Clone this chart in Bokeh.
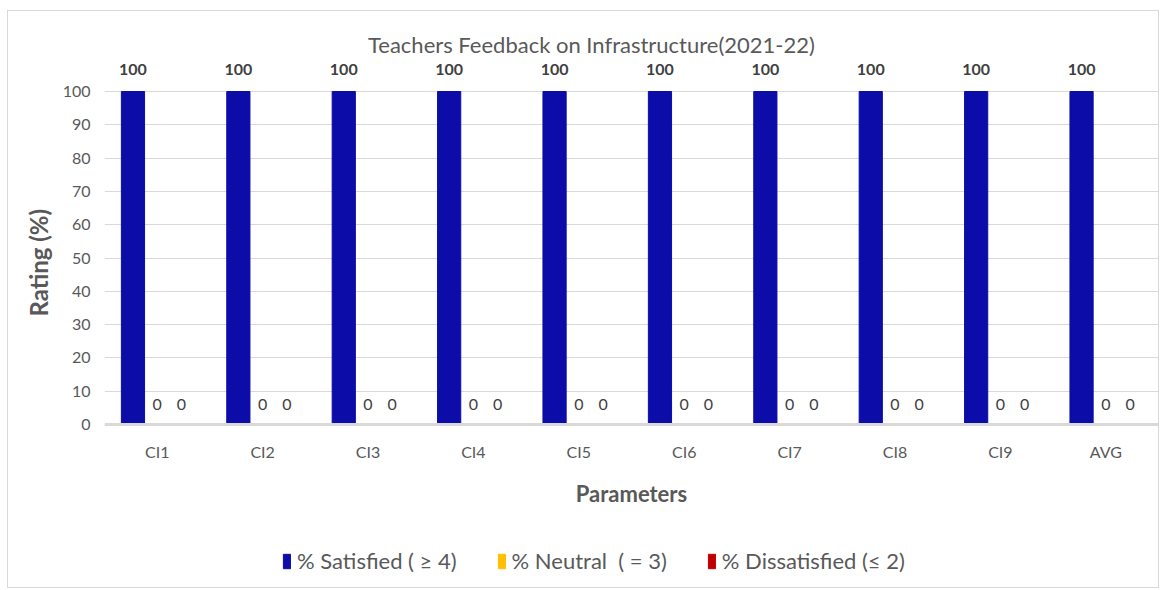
from bokeh.plotting import figure
from bokeh.models import (ColumnDataSource, FactorRange, LabelSet, Label, Legend,
                          LegendItem, Title, Span)
from bokeh.core.properties import value
from bokeh.transform import dodge
from bokeh.embed import file_html
from bokeh.resources import INLINE

categories = ["CI1", "CI2", "CI3", "CI4", "CI5", "CI6", "CI7", "CI8", "CI9", "AVG"]
satisfied = [100, 100, 100, 100, 100, 100, 100, 100, 100, 100]
neutral = [0, 0, 0, 0, 0, 0, 0, 0, 0, 0]
dissatisfied = [0, 0, 0, 0, 0, 0, 0, 0, 0, 0]
y_ticks = [0, 10, 20, 30, 40, 50, 60, 70, 80, 90, 100]

FONT = "Lato"
GRAY = "#595959"

src = ColumnDataSource(dict(
    cat=categories, sat=satisfied, neu=neutral, dis=dissatisfied,
    sat_t=[str(v) for v in satisfied],
    neu_t=[str(v) for v in neutral],
    dis_t=[str(v) for v in dissatisfied],
))

p = figure(x_range=FactorRange(*categories), y_range=(-48.63, 122.52),
           width=1152, height=578, output_backend="svg", toolbar_location=None,
           x_axis_location=None,
           min_border_left=96, min_border_right=2, min_border_top=5, min_border_bottom=3)
p.styles = {"border": "1px solid #d9d9d9", "margin-left": "7px", "margin-top": "10px"}
p.outline_line_color = None

w = 0.22
r1 = p.vbar(x=dodge("cat", -0.23, range=p.x_range), top="sat", width=w, source=src,
            fill_color="#0c0ca8", line_color="#0c0ca8")
r2 = p.vbar(x=dodge("cat", 0.0, range=p.x_range), top="neu", width=w, source=src,
            fill_color="#ffc000", line_color="#ffc000")
r3 = p.vbar(x=dodge("cat", 0.23, range=p.x_range), top="dis", width=w, source=src,
            fill_color="#c00000", line_color="#c00000")

p.add_layout(Span(location=0, dimension="width", line_color="#d9d9d9", line_width=3))

for xoff, col, tcol, yo, fs in [(-0.23, "sat", "sat_t", 22, "bold"),
                                (0.0, "neu", "neu_t", 20, "normal"),
                                (0.23, "dis", "dis_t", 20, "normal")]:
    ls = LabelSet(x=dodge("cat", xoff, range=p.x_range), y=col, text=tcol, source=src,
                  text_align="center", text_baseline="middle", y_offset=yo,
                  text_font=value(FONT), text_font_size=value("16px"),
                  text_font_style=value(fs), text_color=value("#404040"))
    p.add_layout(ls)

# category labels
p.add_layout(LabelSet(x="cat", y=0, text="cat", source=src, text_align="center",
                      text_baseline="middle", y_offset=-27, text_font=value(FONT),
                      text_font_size=value("16px"), text_color=value(GRAY)))
p.add_layout(Label(x=5.0, y=0, y_offset=-69, text="Parameters", text_align="center",
                   text_baseline="middle", text_font=FONT, text_font_size="22px",
                   text_font_style="bold", text_color=GRAY))

p.add_layout(Label(x=4.62, y=113.5, y_offset=2,
                   text="Teachers Feedback on Infrastructure(2021-22)",
                   text_align="center", text_baseline="middle", text_font=FONT,
                   text_font_size="22px", text_color=GRAY))

for g in p.xgrid:
    g.grid_line_color = None
p.ygrid.grid_line_color = "#d9d9d9"

p.yaxis.ticker = y_ticks
p.yaxis.axis_line_color = None
p.yaxis.major_tick_line_color = None
p.yaxis.minor_tick_line_color = None
p.yaxis.major_label_text_font = FONT
p.yaxis.major_label_text_font_size = "16px"
p.yaxis.major_label_text_color = GRAY
p.yaxis.major_label_standoff = 8

p.add_layout(Title(text="Rating (%)", align="left", offset=270, text_font=FONT,
                   text_font_size="24px", text_font_style="bold", text_color=GRAY,
                   standoff=14), "left")

legend = Legend(items=[
    LegendItem(label="% Satisfied ( \u2265 4)", renderers=[r1]),
    LegendItem(label="% Neutral  ( = 3)", renderers=[r2]),
    LegendItem(label="% Dissatisfied (\u2264 2)", renderers=[r3]),
], orientation="horizontal", location=(178, 12), padding=0, margin=0, spacing=40,
   glyph_width=9, glyph_height=18, label_standoff=6,
   label_text_font=FONT, label_text_font_size="22px", label_text_color=GRAY,
   border_line_color=None, background_fill_alpha=0)
p.add_layout(legend, "center")

open("out.html", "w").write(file_html(p, INLINE))
